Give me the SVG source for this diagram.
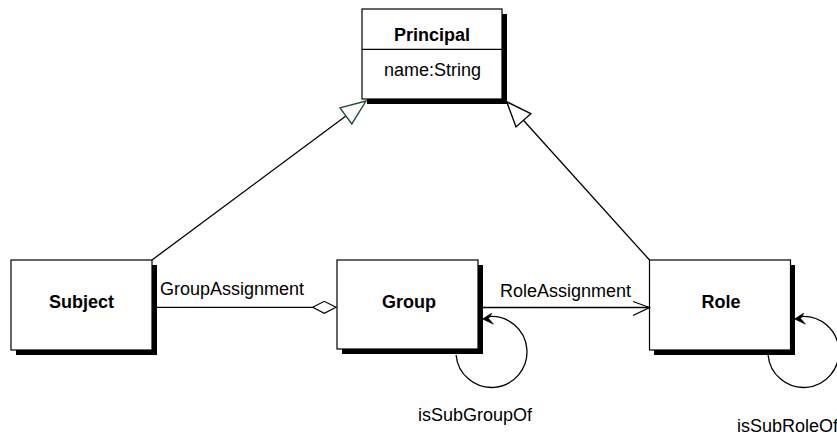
<svg xmlns="http://www.w3.org/2000/svg" width="837" height="435" viewBox="0 0 837 435">
<style>
  .shadow { fill: #000; }
  .box { fill: #fff; stroke: #000; stroke-width: 1.2; }
  .title { font-family: "Liberation Sans", Arial, sans-serif; font-size: 18px; font-weight: bold; fill: #000; text-anchor: middle; }
  .attr { font-family: "Liberation Sans", Arial, sans-serif; font-size: 18px; fill: #000; text-anchor: middle; }
  .label { font-family: "Liberation Sans", Arial, sans-serif; font-size: 18px; fill: #000; }
  .line { fill: none; stroke: #000; stroke-width: 1.3; }
  .gen-green { fill: #fff; stroke: #1d5032; stroke-width: 1.4; }
  .gen-black { fill: #fff; stroke: #000; stroke-width: 1.4; }
  .head { fill: #000; stroke: #000; stroke-width: 0.8; }
</style>
<rect width="837" height="435" fill="#fff"/>

<g id="Principal">
  <rect class="shadow" x="367" y="14" width="140" height="90"/>
  <rect class="box" x="362" y="9" width="140" height="90"/>
  <line x1="362" y1="49.3" x2="502" y2="49.3" stroke="#000" stroke-width="1.2"/>
  <text class="title" x="432" y="40.5">Principal</text>
  <text class="attr" x="432.5" y="76">name:String</text>
</g>

<g id="Subject">
  <rect class="shadow" x="16" y="265" width="141" height="90"/>
  <rect class="box" x="11" y="260" width="141" height="90"/>
  <text class="title" x="81.5" y="308.3">Subject</text>
</g>

<g id="Group">
  <rect class="shadow" x="342" y="265" width="141" height="89"/>
  <rect class="box" x="337" y="260" width="141" height="89"/>
  <text class="title" x="409" y="308.3">Group</text>
</g>

<g id="Role">
  <rect class="shadow" x="654" y="265" width="141" height="90"/>
  <rect class="box" x="649.5" y="260" width="141" height="90"/>
  <text class="title" x="721" y="308.3">Role</text>
</g>

<g id="connectors">
  <!-- Subject -> Principal generalization -->
  <line class="line" x1="152" y1="260" x2="345.9" y2="115.9"/>
  <polygon class="gen-green" points="366,101 340,107.9 351.8,123.9"/>

  <!-- Role -> Principal generalization -->
  <line class="line" x1="649.5" y1="260" x2="523.4" y2="120.3"/>
  <polygon class="gen-black" points="506.7,101.7 530.8,113.7 516,126.9"/>

  <!-- GroupAssignment (aggregation) -->
  <line class="line" x1="157" y1="307.3" x2="312.7" y2="307.3"/>
  <polygon points="312.7,307.3 324.3,301.3 336,307.3 324.3,313.3" fill="#fff" stroke="#000" stroke-width="1.2"/>
  <text class="label" x="160" y="295">GroupAssignment</text>

  <!-- RoleAssignment (navigable association) -->
  <line class="line" x1="483" y1="307.5" x2="649.5" y2="307.5"/>
  <polyline class="line" points="633,301.5 649.5,307.5 633,315.5"/>
  <text class="label" x="500" y="297">RoleAssignment</text>

  <!-- isSubGroupOf self loop -->
  <path class="line" d="M 456.1 355 A 35.5 35.5 0 1 0 488.5 316.6"/>
  <path class="head" d="M 482.7 319 L 491.7 313.3 L 488.5 318.6 L 493.3 324 Z"/>
  <text class="label" x="418" y="421">isSubGroupOf</text>

  <!-- isSubRoleOf self loop -->
  <path class="line" d="M 768.1 355 A 35.5 35.5 0 1 0 800.5 316.6"/>
  <path class="head" d="M 794.7 319 L 803.7 313.3 L 800.5 318.6 L 805.3 324 Z"/>
  <text class="label" x="737" y="432">isSubRoleOf</text>
</g>
</svg>
